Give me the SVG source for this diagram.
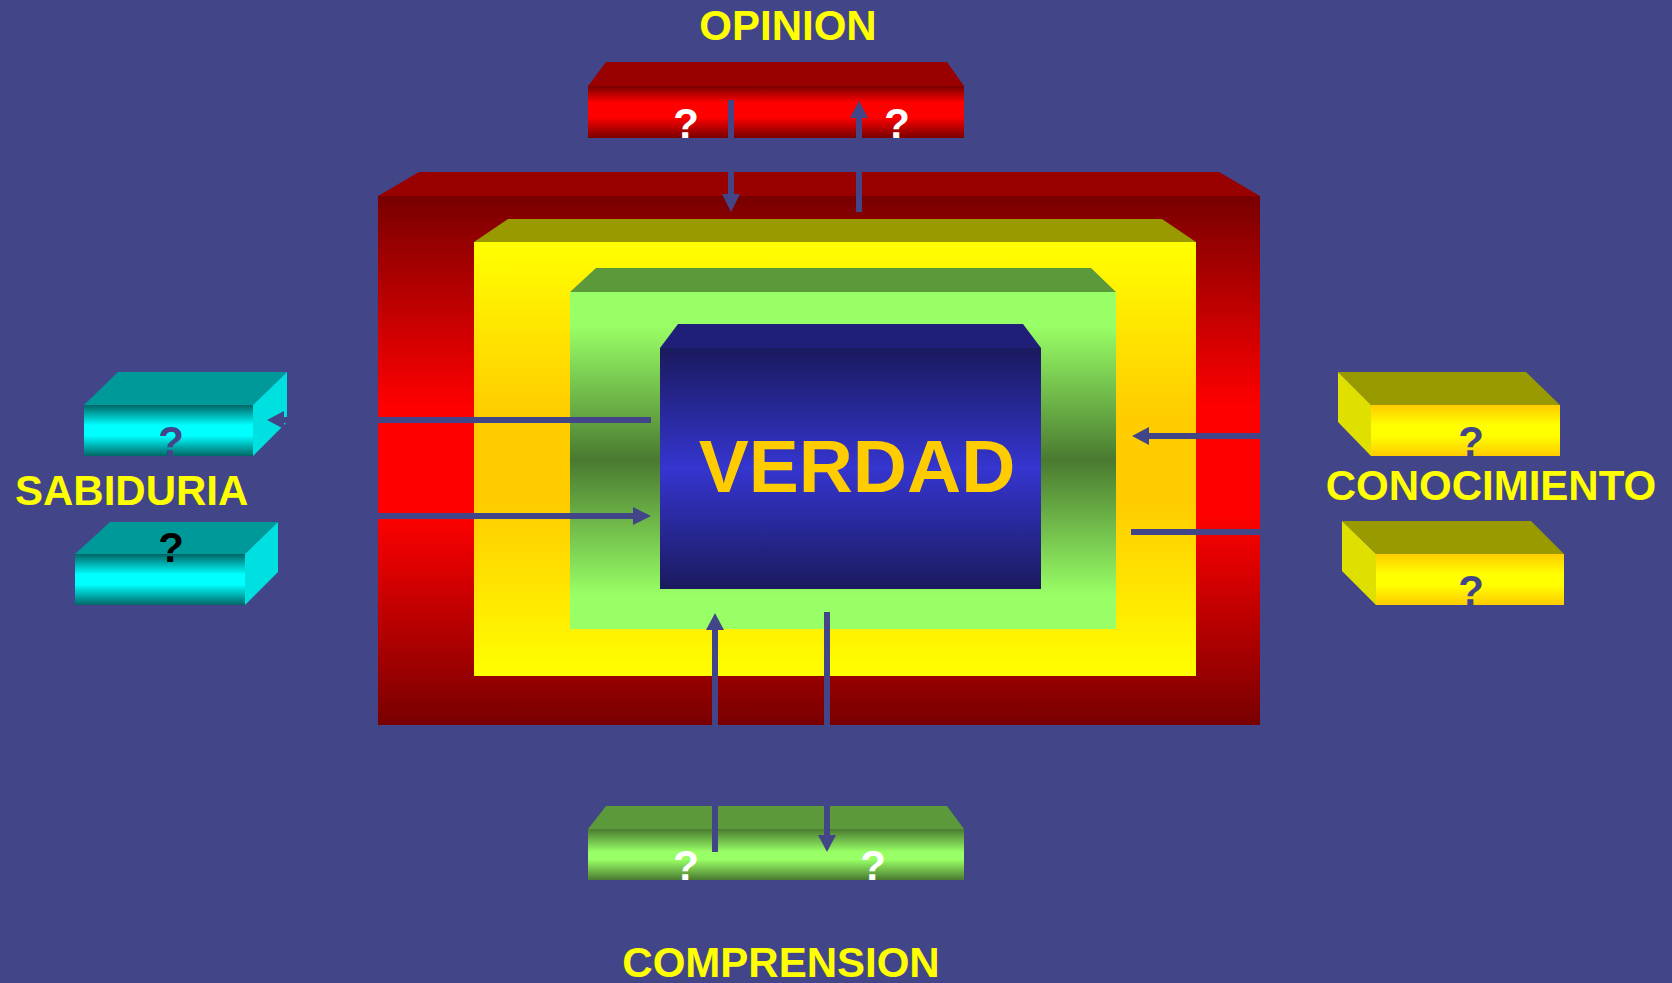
<svg xmlns="http://www.w3.org/2000/svg" width="1672" height="983" viewBox="0 0 1672 983">
<defs>
<linearGradient id="gRedBig" x1="0" y1="0" x2="0" y2="1"><stop offset="0" stop-color="#780000"/><stop offset="0.4" stop-color="#ff0000"/><stop offset="0.6" stop-color="#ff0000"/><stop offset="1" stop-color="#780000"/></linearGradient>
<linearGradient id="gYelBig" x1="0" y1="0" x2="0" y2="1"><stop offset="0" stop-color="#ffff00"/><stop offset="0.4" stop-color="#ffcc00"/><stop offset="0.6" stop-color="#ffcc00"/><stop offset="1" stop-color="#ffff00"/></linearGradient>
<linearGradient id="gGrnBig" x1="0" y1="0" x2="0" y2="1"><stop offset="0" stop-color="#99ff66"/><stop offset="0.1" stop-color="#99ff66"/><stop offset="0.5" stop-color="#4a7a30"/><stop offset="0.9" stop-color="#99ff66"/><stop offset="1" stop-color="#99ff66"/></linearGradient>
<linearGradient id="gBlue" x1="0" y1="0" x2="0" y2="1"><stop offset="0" stop-color="#1a1a5e"/><stop offset="0.5" stop-color="#3535d0"/><stop offset="1" stop-color="#1a1a5e"/></linearGradient>
<linearGradient id="gRedSm" x1="0" y1="0" x2="0" y2="1"><stop offset="0" stop-color="#770000"/><stop offset="0.32" stop-color="#ff0000"/><stop offset="0.6" stop-color="#ff0000"/><stop offset="1" stop-color="#770000"/></linearGradient>
<linearGradient id="gGrnSm" x1="0" y1="0" x2="0" y2="1"><stop offset="0" stop-color="#4a7a30"/><stop offset="0.45" stop-color="#99ff66"/><stop offset="0.6" stop-color="#99ff66"/><stop offset="1" stop-color="#4a7a30"/></linearGradient>
<linearGradient id="gCyan" x1="0" y1="0" x2="0" y2="1"><stop offset="0" stop-color="#006666"/><stop offset="0.4" stop-color="#00ffff"/><stop offset="0.6" stop-color="#00ffff"/><stop offset="1" stop-color="#006666"/></linearGradient>
<linearGradient id="gYelSm" x1="0" y1="0" x2="0" y2="1"><stop offset="0" stop-color="#ffcc00"/><stop offset="0.4" stop-color="#ffff00"/><stop offset="0.6" stop-color="#ffff00"/><stop offset="1" stop-color="#ffcc00"/></linearGradient>
</defs>
<style>
text{font-family:"Liberation Sans",Arial,sans-serif;font-weight:bold}
.lbl{font-size:42px;fill:#ffff00}
.q{font-size:42px;text-anchor:middle}
.conn line{stroke:#424689;stroke-width:6}
.conn polygon{fill:#424689}
</style>
<rect width="1672" height="983" fill="#424689"/>

<g id="red-layer">
<polygon points="378,196 419,172 1219,172 1260,196" fill="#990000"/>
<rect x="378" y="196" width="882" height="529" fill="url(#gRedBig)"/>
</g>
<g id="yellow-layer">
<polygon points="474,242 508,219 1162,219 1196,242" fill="#999900"/>
<rect x="474" y="242" width="722" height="434" fill="url(#gYelBig)"/>
</g>
<g id="green-layer">
<polygon points="570,292 596,268 1091,268 1116,292" fill="#5c993a"/>
<rect x="570" y="292" width="546" height="337" fill="url(#gGrnBig)"/>
</g>
<g id="verdad">
<polygon points="660,348 678,324 1023,324 1041,348" fill="#1f1f7a"/>
<rect x="660" y="348" width="381" height="241" fill="url(#gBlue)"/>
<text x="857" y="492" text-anchor="middle" font-size="75" fill="#ffcc00">VERDAD</text>
</g>

<g id="opinion">
<text class="lbl" x="788" y="40" text-anchor="middle">OPINION</text>
<polygon points="588,86 606,62 947,62 964,86" fill="#990000"/>
<rect x="588" y="86" width="376" height="52" fill="url(#gRedSm)"/>
<text class="q" x="686" y="138" fill="#ffffff">?</text>
<text class="q" x="897" y="138" fill="#ffffff">?</text>
</g>

<g id="comprension">
<polygon points="588,829 606,806 947,806 964,829" fill="#5c993a"/>
<rect x="588" y="829" width="376" height="51" fill="url(#gGrnSm)"/>
<text class="q" x="686" y="880" fill="#ffffff">?</text>
<text class="q" x="873" y="880" fill="#ffffff">?</text>
<text class="lbl" x="781" y="977" text-anchor="middle">COMPRENSION</text>
</g>

<g id="sabiduria">
<polygon points="84,405 118,372 287,372 253,405" fill="#009999"/>
<polygon points="253,405 287,372 287,422 253,456" fill="#00e0e0"/>
<rect x="84" y="405" width="169" height="51" fill="url(#gCyan)"/>
<text class="q" x="171" y="456" fill="#424689">?</text>
<text class="lbl" x="15" y="505">SABIDURIA</text>
<polygon points="75,554 110,522 278,522 245,554" fill="#009999"/>
<polygon points="245,554 278,522 278,572 245,605" fill="#00e0e0"/>
<rect x="75" y="554" width="170" height="51" fill="url(#gCyan)"/>
<text class="q" x="171" y="562" fill="#000000">?</text>
</g>

<g id="conocimiento">
<polygon points="1338,372 1526,372 1560,405 1371,405" fill="#999900"/>
<polygon points="1338,372 1371,405 1371,456 1338,422" fill="#e0e000"/>
<rect x="1371" y="405" width="189" height="51" fill="url(#gYelSm)"/>
<text class="q" x="1471" y="456" fill="#424689">?</text>
<text class="lbl" x="1491" y="500" text-anchor="middle">CONOCIMIENTO</text>
<polygon points="1342,521 1531,521 1564,554 1376,554" fill="#999900"/>
<polygon points="1342,521 1376,554 1376,605 1342,571" fill="#e0e000"/>
<rect x="1376" y="554" width="188" height="51" fill="url(#gYelSm)"/>
<text class="q" x="1471" y="605" fill="#424689">?</text>
</g>

<g id="connectors" class="conn">
<line x1="731" y1="100" x2="731" y2="195"/><polygon points="722,194 740,194 731,212"/>
<line x1="859" y1="212" x2="859" y2="117"/><polygon points="850,118 868,118 859,101"/>
<line x1="651" y1="420" x2="283" y2="420"/><polygon points="284,411 284,429 267,420"/>
<line x1="378" y1="516" x2="634" y2="516"/><polygon points="633,507 633,525 651,516"/>
<line x1="1260" y1="436" x2="1148" y2="436"/><polygon points="1149,427 1149,445 1132,436"/>
<line x1="1131" y1="532" x2="1260" y2="532"/>
<line x1="715" y1="852" x2="715" y2="629"/><polygon points="706,630 724,630 715,613"/>
<line x1="827" y1="612" x2="827" y2="836"/><polygon points="818,835 836,835 827,852"/>
</g>
</svg>
